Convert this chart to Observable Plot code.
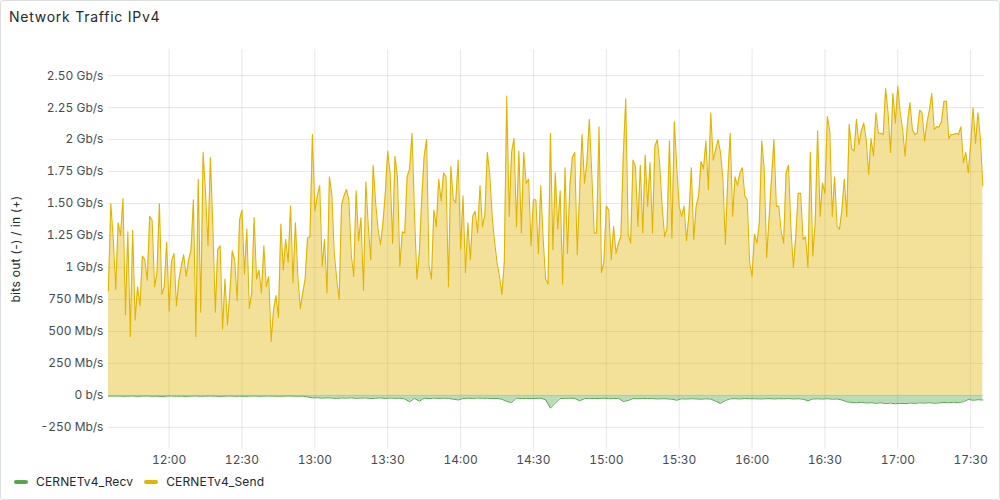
<!DOCTYPE html>
<html>
<head>
<meta charset="utf-8">
<script src="https://cdn.jsdelivr.net/npm/d3@7"></script>
<script src="https://cdn.jsdelivr.net/npm/@observablehq/plot@0.6"></script>
<style>
  body { margin: 0; background: #fff; font-family: Inter, "Noto Sans", sans-serif; }
  #panel { position: relative; width: 1000px; height: 500px; box-sizing: border-box; border: 1px solid #dcdee1; border-radius: 3px; overflow: hidden; background: #fff; }
  #title { position: absolute; left: 8px; top: 7px; font-size: 14px; font-weight: 400; color: #24292e; letter-spacing: 0.75px; }
  #chart { position: absolute; left: -1px; top: 39px; }
  #ylabel { position: absolute; left: 14px; top: 248px; transform: translate(-50%, -50%) rotate(-90deg); white-space: nowrap; font-size: 12px; color: #24292e; letter-spacing: 0.3px; }
  #legend { position: absolute; left: 13px; top: 473px; display: flex; align-items: center; font-size: 12px; color: #24292e; letter-spacing: 0.15px; }
  .item { display: flex; align-items: center; margin-right: 11px; }
  .sw { width: 14px; height: 4px; border-radius: 2px; margin-right: 8px; }
</style>
</head>
<body>
<div id="panel">
  <div id="title">Network Traffic IPv4</div>
  <div id="chart"></div>
  <div id="ylabel"></div>
  <div id="legend"></div>
</div>
<script>
// ---- data ----
const seriesNames = ["CERNETv4_Recv", "CERNETv4_Send"];
const seriesColors = ["#56A64B", "#E0B400"];
const startTime = "11:35";          // first sample, one sample per minute for Send
const recvStepMinutes = 2;          // Recv sampled every 2 minutes
const yTickValues = [-0.25, 0, 0.25, 0.5, 0.75, 1, 1.25, 1.5, 1.75, 2, 2.25, 2.5];
const yTickLabels = ["-250 Mb/s", "0 b/s", "250 Mb/s", "500 Mb/s", "750 Mb/s", "1 Gb/s", "1.25 Gb/s", "1.50 Gb/s", "1.75 Gb/s", "2 Gb/s", "2.25 Gb/s", "2.50 Gb/s"];
const xTickLabels = ["12:00", "12:30", "13:00", "13:30", "14:00", "14:30", "15:00", "15:30", "16:00", "16:30", "17:00", "17:30"];
const yLabel = "bits out (-) / in (+)";

// Send (in), Gb/s, one value per minute from 11:35
const sendGbps = [
0.82,1.50,1.22,0.83,1.35,1.25,1.54,0.63,1.28,0.46,1.29,0.59,0.85,0.70,1.09,1.06,0.90,1.40,1.37,0.85,
0.96,1.50,0.79,0.85,1.20,0.66,1.05,1.11,0.70,0.90,1.01,1.10,0.93,1.06,1.13,1.53,0.46,1.69,0.65,1.90,
1.58,1.17,1.86,1.32,0.65,1.14,1.17,0.52,0.91,0.55,0.80,1.13,1.06,0.74,1.37,1.45,0.95,1.30,0.68,0.80,
1.39,0.91,0.98,0.80,1.17,0.85,0.93,0.42,0.67,0.78,0.61,1.34,0.98,1.22,1.04,1.48,0.88,1.35,0.93,0.68,
0.80,0.91,1.23,1.24,2.04,1.44,1.56,1.64,1.01,1.22,0.80,1.71,1.57,1.11,0.91,0.75,1.49,1.56,1.61,1.53,
1.10,0.93,1.60,1.21,1.39,0.82,1.67,1.32,1.06,1.80,1.51,1.30,1.18,1.34,1.58,1.91,1.73,1.19,1.87,1.71,
1.01,1.28,1.27,1.71,1.77,2.05,1.43,0.91,1.11,1.53,1.87,2.00,1.01,0.91,1.45,1.32,1.69,1.52,1.74,1.71,
0.85,1.79,1.53,1.51,1.84,1.14,1.56,0.96,1.35,1.06,1.40,1.44,1.27,1.64,1.32,1.41,1.90,1.73,1.40,1.20,
1.04,0.93,0.79,1.04,2.34,1.40,1.90,2.01,1.32,1.91,1.27,1.90,1.66,1.69,1.17,1.53,1.53,1.11,1.64,1.22,
0.91,0.87,2.05,1.14,1.74,1.30,1.60,0.87,1.78,1.11,1.64,1.86,1.90,1.10,1.58,2.04,1.66,1.82,2.16,1.74,
1.27,1.27,2.10,0.96,1.04,1.48,1.45,1.06,1.32,1.11,1.19,1.24,1.88,2.32,1.26,1.19,1.84,1.79,1.32,1.80,
1.27,1.88,1.48,1.82,1.27,1.95,2.00,1.80,1.47,1.24,1.31,1.99,1.23,2.14,1.78,1.48,1.40,1.48,1.21,1.41,
1.78,1.22,1.48,1.56,1.83,1.77,1.99,1.61,2.21,1.84,1.92,2.00,1.90,1.69,1.18,1.69,2.05,1.40,1.71,1.64,
1.74,1.78,1.56,1.53,1.04,0.93,1.26,1.19,1.35,1.99,1.77,1.08,1.38,1.69,2.00,1.48,1.48,1.28,1.19,1.74,
1.80,1.31,1.00,1.24,1.58,1.58,1.22,1.24,1.00,1.90,1.09,1.35,2.07,1.40,1.66,1.58,2.18,2.07,1.40,1.71,
1.32,1.30,1.45,1.69,1.40,2.12,1.93,1.91,2.16,1.96,2.07,2.13,2.00,1.73,2.01,1.87,2.21,2.05,2.05,2.04,
2.40,2.21,1.90,2.36,2.13,2.42,2.21,2.08,1.87,2.13,2.29,2.08,2.04,2.05,2.23,2.21,1.99,2.13,2.23,2.36,
2.08,2.10,2.10,2.14,2.30,2.30,2.01,2.04,2.04,2.05,2.04,2.10,1.82,1.90,1.74,1.96,2.25,1.97,2.21,2.01,
1.64
];

// Recv (out), Mb/s, drawn below zero, one value every 2 minutes from 11:35
const recvMbps = [
5,6,5,7,6,5,8,6,5,7,6,9,6,5,7,6,8,6,5,7,
6,5,6,8,6,5,7,6,8,6,5,7,6,5,6,7,6,5,6,7,
6,12,20,18,22,19,21,24,20,22,19,23,21,20,25,22,20,24,21,23,
22,28,50,24,45,22,26,21,24,22,23,30,36,25,22,24,21,23,22,25,
24,30,48,55,22,25,23,26,24,22,35,100,60,25,23,22,24,42,26,23,
25,24,22,26,25,23,48,40,25,27,24,26,25,28,26,27,30,38,27,29,
26,28,30,27,29,45,63,40,27,26,28,25,27,26,28,27,25,28,26,27,
25,28,26,30,42,28,27,29,26,30,28,36,50,55,58,54,60,57,62,58,
64,60,66,62,65,60,63,58,61,57,62,59,55,58,54,56,50,32,38,34,
36
];

// ---- build tables ----
const [sh, sm] = startTime.split(":").map(Number);
const t0 = new Date(2024, 0, 1, sh, sm);
const at = (min) => new Date(t0.getTime() + min * 60000);
const send = sendGbps.map((v, i) => ({ t: at(i), v }));
const recv = recvMbps.map((v, i) => ({ t: at(i * recvStepMinutes), v: -v / 1000 }));
const xTicks = xTickLabels.map(s => { const [h, m] = s.split(":").map(Number); return new Date(2024, 0, 1, h, m); });
const yFmt = (d) => yTickLabels[yTickValues.indexOf(d)] ?? "";

const chart = Plot.plot({
  width: 1000,
  height: 440,
  marginLeft: 108,
  marginRight: 15,
  marginTop: 9,
  marginBottom: 31,
  style: { fontFamily: "Inter, 'Noto Sans', sans-serif", fontSize: "12px", color: "#464c54", background: "transparent" },
  x: { type: "time", domain: [at(0), at(360.7)] },
  y: { domain: [-0.42, 2.705] },
  marks: [
    Plot.gridY(yTickValues, { stroke: "#000", strokeOpacity: 0.1 }),
    Plot.gridX(xTicks, { stroke: "#000", strokeOpacity: 0.1 }),
    Plot.areaY(send, { x: "t", y: "v", fill: seriesColors[1], fillOpacity: 0.4 }),
    Plot.areaY(recv, { x: "t", y: "v", fill: seriesColors[0], fillOpacity: 0.4 }),
    Plot.lineY(recv, { x: "t", y: "v", stroke: seriesColors[0], strokeWidth: 1 }),
    Plot.lineY(send, { x: "t", y: "v", stroke: seriesColors[1], strokeWidth: 1.1 }),
    Plot.axisY(yTickValues, { tickSize: 0, tickPadding: 5, tickFormat: yFmt, label: null, fill: "#464c54", style: { letterSpacing: "0.2px" } }),
    Plot.axisX(xTicks, { tickSize: 0, tickPadding: 6, tickFormat: d3.timeFormat("%H:%M"), label: null, fill: "#464c54", style: { letterSpacing: "0.2px" } })
  ]
});
document.getElementById("chart").appendChild(chart);
document.getElementById("ylabel").textContent = yLabel;

const legend = document.getElementById("legend");
seriesNames.forEach((name, i) => {
  const item = document.createElement("div");
  item.className = "item";
  const sw = document.createElement("span");
  sw.className = "sw";
  sw.style.background = seriesColors[i];
  const tx = document.createElement("span");
  tx.textContent = name;
  item.appendChild(sw);
  item.appendChild(tx);
  legend.appendChild(item);
});
</script>
</body>
</html>
